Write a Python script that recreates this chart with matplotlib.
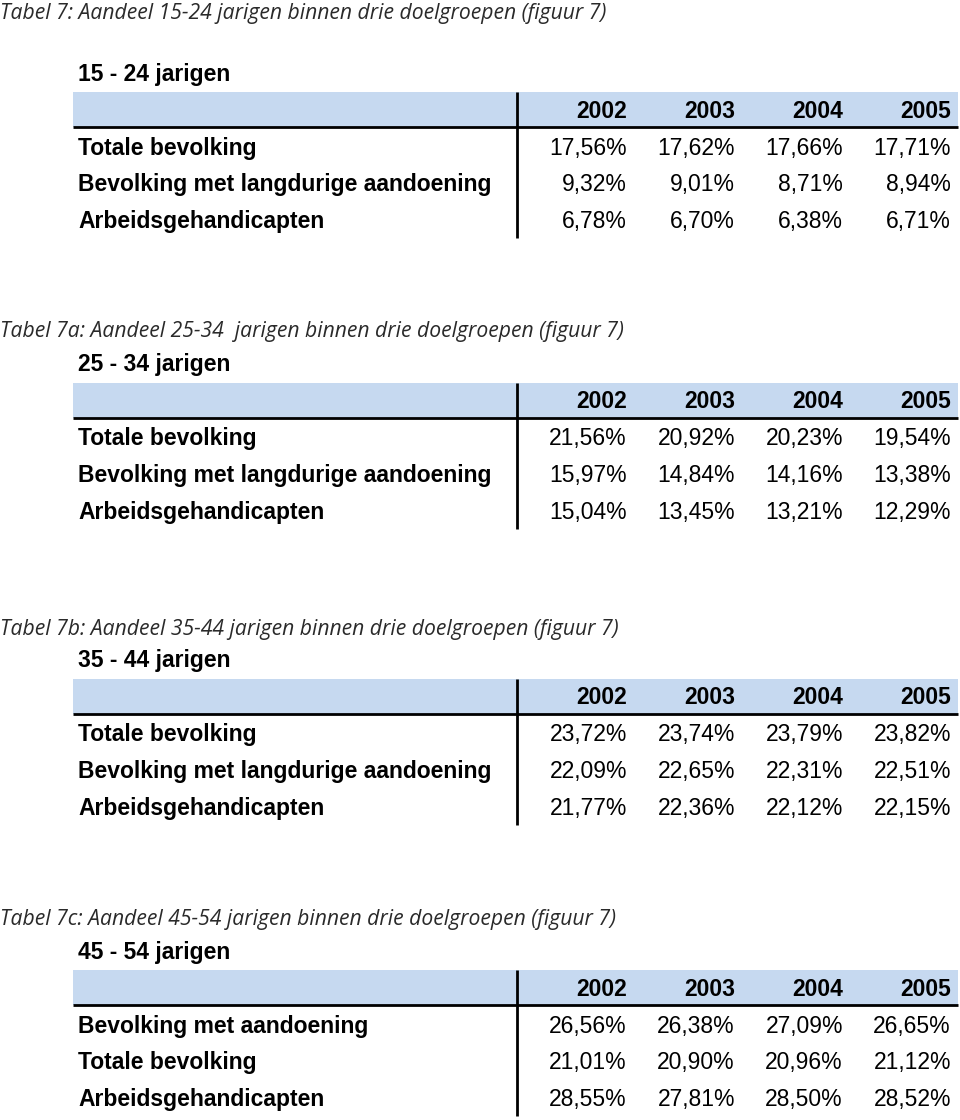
import matplotlib.pyplot as plt
from matplotlib.patches import Rectangle

# Data
years = ["2002", "2003", "2004", "2005"]

titles = [
    "Tabel 7: Aandeel 15-24 jarigen binnen drie doelgroepen (figuur 7)",
    "Tabel 7a: Aandeel 25-34  jarigen binnen drie doelgroepen (figuur 7)",
    "Tabel 7b: Aandeel 35-44 jarigen binnen drie doelgroepen (figuur 7)",
    "Tabel 7c: Aandeel 45-54 jarigen binnen drie doelgroepen (figuur 7)",
]
subtitles = ["15 - 24 jarigen", "25 - 34 jarigen", "35 - 44 jarigen", "45 - 54 jarigen"]

labels_15_24 = ["Totale bevolking", "Bevolking met langdurige aandoening", "Arbeidsgehandicapten"]
values_15_24 = [[17.56, 17.62, 17.66, 17.71],
                [9.32, 9.01, 8.71, 8.94],
                [6.78, 6.70, 6.38, 6.71]]

labels_25_34 = ["Totale bevolking", "Bevolking met langdurige aandoening", "Arbeidsgehandicapten"]
values_25_34 = [[21.56, 20.92, 20.23, 19.54],
                [15.97, 14.84, 14.16, 13.38],
                [15.04, 13.45, 13.21, 12.29]]

labels_35_44 = ["Totale bevolking", "Bevolking met langdurige aandoening", "Arbeidsgehandicapten"]
values_35_44 = [[23.72, 23.74, 23.79, 23.82],
                [22.09, 22.65, 22.31, 22.51],
                [21.77, 22.36, 22.12, 22.15]]

labels_45_54 = ["Bevolking met aandoening", "Totale bevolking", "Arbeidsgehandicapten"]
values_45_54 = [[26.56, 26.38, 27.09, 26.65],
                [21.01, 20.90, 20.96, 21.12],
                [28.55, 27.81, 28.50, 28.52]]

tables = [
    (labels_15_24, values_15_24),
    (labels_25_34, values_25_34),
    (labels_35_44, values_35_44),
    (labels_45_54, values_45_54),
]

# Layout (pixel units on a 960x1120 canvas)
title_y = [14, 332, 629, 919]
sub_y = [74, 365, 661, 952]
col_right = [627, 735, 843, 951]
band_color = "#c6d9f0"
fs = 16.5

fig = plt.figure(figsize=(9.6, 11.2), dpi=100)
ax = fig.add_axes([0, 0, 1, 1])
ax.set_xlim(0, 960)
ax.set_ylim(1120, 0)
ax.axis("off")

for i, (labels, values) in enumerate(tables):
    ax.text(0, title_y[i], titles[i], fontsize=15.2, style="italic",
            family="Open Sans", color="#2a2a2a", va="center", ha="left")
    s = sub_y[i]
    ax.text(78, s, subtitles[i], fontsize=fs, fontweight="bold",
            family="Liberation Sans", va="center", ha="left")

    # header band with thick rule and vertical separator
    ax.add_patch(Rectangle((73, s + 18), 885, 35, facecolor=band_color, edgecolor="none"))
    ax.plot([73, 958], [s + 53, s + 53], color="black", lw=2.0, solid_capstyle="butt")
    ax.plot([517, 517], [s + 18, s + 164], color="black", lw=2.0, solid_capstyle="butt")

    for j, yr in enumerate(years):
        ax.text(col_right[j], s + 37, yr, fontsize=fs, fontweight="bold",
                family="Liberation Sans", va="center", ha="right")

    for r, (lab, row) in enumerate(zip(labels, values)):
        y = s + 74 + r * 36.8
        ax.text(78, y, lab, fontsize=fs, fontweight="bold",
                family="Liberation Sans", va="center", ha="left")
        for j, v in enumerate(row):
            txt = f"{v:.2f}".replace(".", ",") + "%"
            ax.text(col_right[j], y, txt, fontsize=fs,
                    family="Liberation Sans", va="center", ha="right")

fig.savefig("out.png", dpi=100, facecolor="white")
